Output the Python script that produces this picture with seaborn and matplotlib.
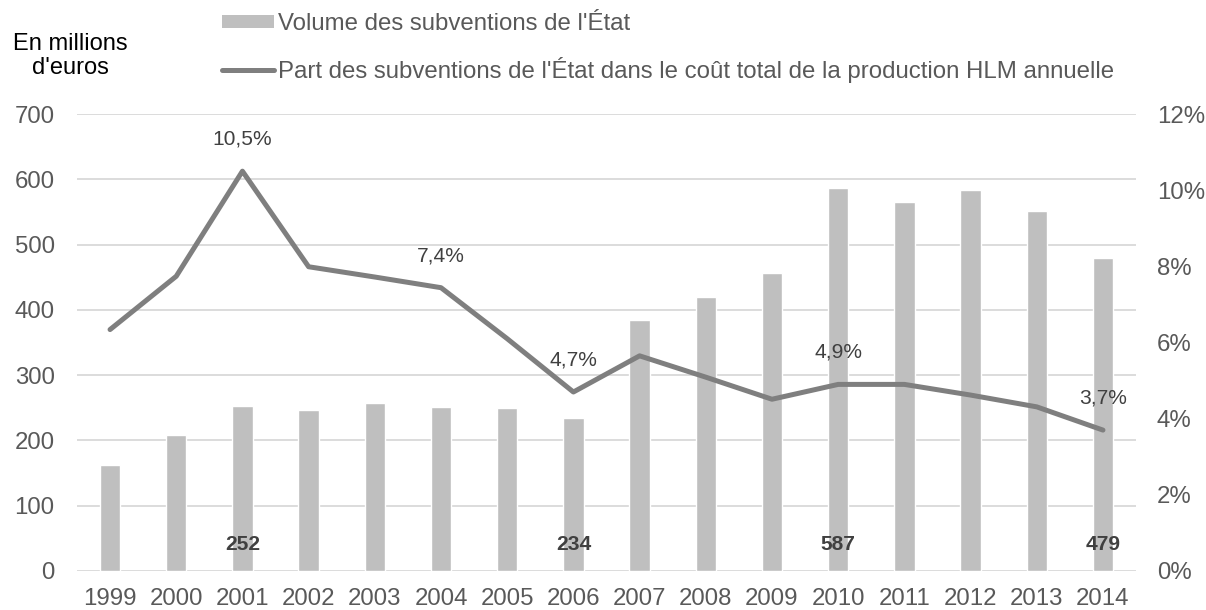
import numpy as np
import pandas as pd
import seaborn as sns
import matplotlib.pyplot as plt
from matplotlib.patches import Patch
from matplotlib.lines import Line2D

# Data
years = ['1999', '2000', '2001', '2002', '2003', '2004', '2005', '2006',
         '2007', '2008', '2009', '2010', '2011', '2012', '2013', '2014']
volume = [162, 208, 252, 246, 258, 251, 249, 234,
          385, 419, 456, 587, 565, 584, 552, 479]
part = [6.34, 7.74, 10.5, 7.99, 7.72, 7.44, 6.1, 4.7,
        5.65, 5.09, 4.51, 4.9, 4.9, 4.62, 4.31, 3.7]
pct_labels = {2: '10,5%', 5: '7,4%', 7: '4,7%', 11: '4,9%', 15: '3,7%'}
bar_labels = {2: '252', 7: '234', 11: '587', 15: '479'}

df = pd.DataFrame({'Year': years, 'Volume': volume, 'Part': part})
df['pos'] = np.arange(len(df))

sns.set_style('white')
plt.rcParams['font.family'] = ['Liberation Sans', 'DejaVu Sans']

bar_color = '#BFBFBF'
line_color = '#7F7F7F'
tick_color = '#595959'
grid_color = '#D9D9D9'

fig, ax = plt.subplots(figsize = (12.06, 6.10), dpi = 100)
fig.subplots_adjust(left = 0.0638, right = 0.942, top = 0.813, bottom = 0.064)

sns.barplot(data = df, x = 'Year', y = 'Volume', color = bar_color, width = 0.31,
            saturation = 1, ax = ax, zorder = 2)
ax.set_ylim(0, 700)
ax.set_yticks(range(0, 701, 100))
ax.set_xlim(-0.5, len(years) - 0.5)
ax.yaxis.grid(True, color = grid_color, linewidth = 1.3, zorder = 0)
ax.set_axisbelow(True)
ax.set_xlabel('')
ax.set_ylabel('')
ax.tick_params(axis = 'both', length = 0, labelsize = 17.3, labelcolor = tick_color)
ax.tick_params(axis = 'y', pad = 16)
ax.tick_params(axis = 'x', pad = 12)
for s in ax.spines.values():
    s.set_visible(False)

for i, txt in bar_labels.items():
    ax.text(i, 40, txt, ha = 'center', va = 'center', fontsize = 15.1,
            fontweight = 'bold', color = '#404040', zorder = 5)

ax2 = ax.twinx()
sns.lineplot(data = df, x = 'pos', y = 'Part', color = line_color, linewidth = 3.6,
             ax = ax2, solid_capstyle = 'round')
ax2.set_ylim(0, 12)
ax2.set_yticks(range(0, 13, 2))
ax2.set_yticklabels([f'{v}%' for v in range(0, 13, 2)])
ax2.set_ylabel('')
ax2.set_xlabel('')
ax2.grid(False)
ax2.tick_params(axis = 'y', length = 0, labelsize = 17.3, labelcolor = tick_color, pad = 15)
for s in ax2.spines.values():
    s.set_visible(False)

for i, txt in pct_labels.items():
    ax2.annotate(txt, xy = (i, part[i]), xytext = (0, 32), textcoords = 'offset pixels',
                 ha = 'center', va = 'center', fontsize = 15.1, color = '#404040')

handles = [Patch(facecolor = bar_color, edgecolor = 'none'),
           Line2D([0], [0], color = line_color, linewidth = 3.6, solid_capstyle = 'round')]
labels = ["Volume des subventions de l'État",
          "Part des subventions de l'État dans le coût total de la production HLM annuelle"]
fig.legend(handles, labels, loc = 'upper left', bbox_to_anchor = (222 / 1206, 1 - 13 / 610),
           frameon = False, fontsize = 17.3, labelcolor = tick_color, handlelength = 2.16,
           handleheight = 0.5, handletextpad = 0.16, labelspacing = 0.9, borderpad = 0,
           borderaxespad = 0)

fig.text(70 / 1206, 1 - 56 / 610, "En millions\nd'euros", ha = 'center', va = 'center',
         fontsize = 17, color = 'black', multialignment = 'center', linespacing = 1.1)

plt.savefig('out.png', dpi = 100)
